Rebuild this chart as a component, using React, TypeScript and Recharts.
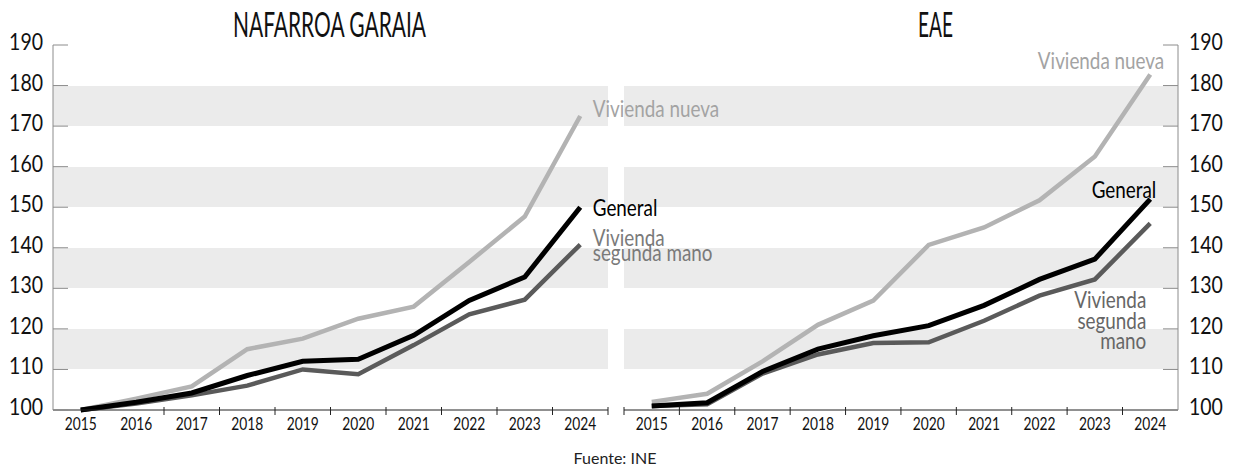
import { LineChart, Line, XAxis, YAxis, CartesianGrid, LabelList } from "recharts";

const years = ["2015", "2016", "2017", "2018", "2019", "2020", "2021", "2022", "2023", "2024"];

// Nafarroa Garaia
const navNueva = [100, 102.8, 105.8, 115, 117.6, 122.5, 125.5, 136.5, 147.7, 172.5];
const navGeneral = [100, 101.9, 104.2, 108.5, 112, 112.5, 118.4, 127, 132.8, 150];
const navSegunda = [100, 101.6, 103.6, 106, 110, 108.8, 116, 123.6, 127.2, 140.8];

// EAE
const eaeNueva = [102, 104, 112, 121, 127, 140.7, 145, 151.7, 162.5, 182.7];
const eaeGeneral = [101, 101.8, 109.5, 115, 118.3, 120.8, 125.8, 132.2, 137.2, 152];
const eaeSegunda = [101, 101.4, 109, 113.7, 116.5, 116.7, 122, 128.2, 132.2, 146];

const yTicks = [100, 110, 120, 130, 140, 150, 160, 170, 180, 190];

const FONT = 'Lato, "Open Sans", sans-serif';
const C_NUEVA = "#b3b3b3";
const C_GENERAL = "#000000";
const C_SEGUNDA = "#5a5a5a";
const AXIS_GRAY = "#8c8c8c";

const CHART_W = 617;
const CHART_H = 440;
const PLOT_W = 555;
const HALF_BAND = PLOT_W / years.length / 2;

const toRows = (nueva: number[], general: number[], segunda: number[]) =>
  years.map((y, i) => ({ year: y, nueva: nueva[i], general: general[i], segunda: segunda[i] }));

const navRows = toRows(navNueva, navGeneral, navSegunda);
const eaeRows = toRows(eaeNueva, eaeGeneral, eaeSegunda);

// condensed text: the installed fonts are too wide, so squeeze them horizontally
const SText = ({ x, y, size, anchor = "start", fill = "#111", sx = 0.82, children }: any) => (
  <text
    transform={`translate(${x},${y}) scale(${sx},1)`}
    textAnchor={anchor}
    fontSize={size}
    fontFamily={FONT}
    fill={fill}
  >
    {children}
  </text>
);

const XTick = ({ x, y, payload, index, side }: any) => {
  let tx: number | null = null;
  if (side === "left" && index >= 1) tx = x + HALF_BAND;
  if (side === "right") tx = x - HALF_BAND;
  return (
    <g>
      <SText x={x} y={y + 20} size={17} anchor="middle" sx={0.81}>
        {payload.value}
      </SText>
      {tx !== null && <line x1={tx} x2={tx} y1={y - 3} y2={y + 5} stroke="#222" />}
    </g>
  );
};

const YTick = ({ x, y, payload, side }: any) => {
  const left = side === "left";
  const ax = left ? x + 10 : x - 11;
  return (
    <g>
      <SText x={x} y={y + 5} size={23.5} anchor={left ? "end" : "start"} sx={0.83}>
        {payload.value}
      </SText>
      <line x1={ax} x2={left ? ax + 15 : ax - 15} y1={y} y2={y} stroke={AXIS_GRAY} />
    </g>
  );
};

const endLabel =
  (lines: string[], color: string, dx: number, dy: number, gap: number, anchor: "start" | "end") =>
  (p: any) => {
    if (p.index !== years.length - 1) return null;
    return (
      <g>
        {lines.map((l, i) => (
          <SText key={i} x={p.x + dx} y={p.y + dy + i * gap} size={23} anchor={anchor} fill={color}>
            {l}
          </SText>
        ))}
      </g>
    );
  };

const Panel = ({ rows, side }: { rows: any[]; side: "left" | "right" }) => {
  const left = side === "left";
  return (
    <LineChart
      width={CHART_W}
      height={CHART_H}
      data={rows}
      margin={left ? { top: 45, right: 9, bottom: 0, left: 0 } : { top: 45, right: 0, bottom: 0, left: 7 }}
    >
      <CartesianGrid
        yAxisId="y"
        vertical={false}
        horizontal={true}
        stroke="none"
        horizontalFill={["transparent", "#ebebeb"]}
        fillOpacity={1}
      />
      <XAxis
        dataKey="year"
        height={30}
        interval={0}
        padding={{ left: HALF_BAND, right: HALF_BAND }}
        tickSize={0}
        tickMargin={0}
        axisLine={{ stroke: "#222" }}
        tick={(p: any) => <XTick {...p} side={side} />}
      />
      <YAxis
        yAxisId="y"
        orientation={side}
        width={left ? 53 : 56}
        domain={[100, 190]}
        ticks={yTicks}
        interval={0}
        tickSize={0}
        tickMargin={left ? 10 : 11}
        axisLine={{ stroke: AXIS_GRAY }}
        tick={(p: any) => <YTick {...p} side={side} />}
      />
      <Line yAxisId="y" dataKey="nueva" stroke={C_NUEVA} strokeWidth={4.5} dot={false} isAnimationActive={false}>
        <LabelList
          dataKey="nueva"
          content={
            left
              ? endLabel(["Vivienda nueva"], "#a3a3a3", 12.5, 1, 0, "start")
              : endLabel(["Vivienda nueva"], "#a3a3a3", 14, -6, 0, "end")
          }
        />
      </Line>
      <Line yAxisId="y" dataKey="segunda" stroke={C_SEGUNDA} strokeWidth={4.5} dot={false} isAnimationActive={false}>
        <LabelList
          dataKey="segunda"
          content={
            left
              ? endLabel(["Vivienda", "segunda mano"], "#7a7a7a", 12.5, 1, 15, "start")
              : endLabel(["Vivienda", "segunda", "mano"], "#666666", -4, 85, 20.5, "end")
          }
        />
      </Line>
      <Line yAxisId="y" dataKey="general" stroke={C_GENERAL} strokeWidth={5} dot={false} isAnimationActive={false}>
        <LabelList
          dataKey="general"
          content={
            left
              ? endLabel(["General"], "#000", 12.5, 9, 0, "start")
              : endLabel(["General"], "#000", 6, -1.5, 0, "end")
          }
        />
      </Line>
    </LineChart>
  );
};

export default function App() {
  return (
    <div style={{ position: "absolute", left: 0, top: 0, width: 1234, height: 471, background: "#fff" }}>
      <style>{`.recharts-surface{overflow:visible}`}</style>
      <div style={{ position: "absolute", left: CHART_W, top: 0, zIndex: 1 }}>
        <Panel rows={eaeRows} side="right" />
      </div>
      <div style={{ position: "absolute", left: 0, top: 0, zIndex: 2 }}>
        <Panel rows={navRows} side="left" />
      </div>
      <svg
        width={1234}
        height={471}
        style={{ position: "absolute", left: 0, top: 0, pointerEvents: "none", zIndex: 3 }}
      >
        <text
          x={329.5}
          y={37}
          textAnchor="middle"
          fontSize={34}
          fontFamily={FONT}
          fill="#111"
          textLength={193}
          lengthAdjust="spacingAndGlyphs"
        >
          NAFARROA GARAIA
        </text>
        <text
          x={935.5}
          y={37}
          textAnchor="middle"
          fontSize={34}
          fontFamily={FONT}
          fill="#111"
          textLength={35}
          lengthAdjust="spacingAndGlyphs"
        >
          EAE
        </text>
        <text x={615} y={464} textAnchor="middle" fontSize={16} fontFamily={FONT} fill="#222">
          Fuente: INE
        </text>
      </svg>
    </div>
  );
}
